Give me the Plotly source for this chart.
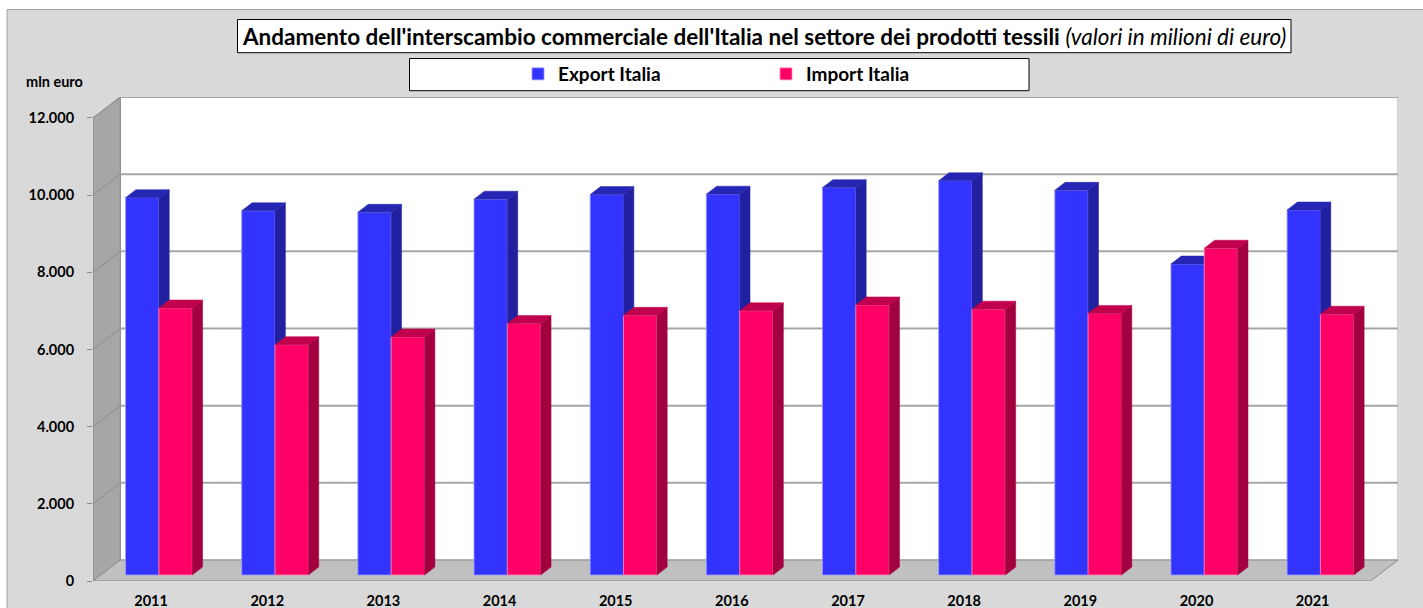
import plotly.graph_objects as go

# ---------------- data ----------------
years = ['2011', '2012', '2013', '2014', '2015', '2016', '2017', '2018', '2019', '2020', '2021']
export_italia = [9780, 9440, 9400, 9740, 9860, 9870, 10040, 10220, 9970, 8060, 9460]
import_italia = [6920, 5970, 6170, 6520, 6730, 6850, 7000, 6890, 6780, 8470, 6760]
y_ticks = [0, 2000, 4000, 6000, 8000, 10000, 12000]
series_names = ['Export Italia', 'Import Italia']

# ---------------- style / geometry ----------------
FONT = 'Lato'
W_PX, H_PX = 1423, 608
ML, MR, MT, MB = 93, 25, 97, 27
DX = 0.235      # full depth offset in category units
DY = 544        # full depth offset in value units
D0 = 0.286      # depth fraction of bar front face
DB = 0.38       # bar depth fraction
BW = 0.287      # bar width (category units)
Y_MAX = y_ticks[-1]

front_cols = ['#3333ff', '#ff0066']
side_cols = ['#2020a0', '#a3003f']
top_cols = ['#2626b4', '#c0004c']
edge_cols = ['#9a9aff', '#ff8ab8']

n = len(years)
xpos = list(range(n))
xmin, xmax = -0.5, n - 0.5

fig = go.Figure()

series = [export_italia, import_italia]
for s, vals in enumerate(series):
    xa = 'x' if s == 0 else 'x2'
    ya = 'y' if s == 0 else 'y2'
    sign = -1 if s == 0 else 1
    centers = [i + D0 * DX + sign * BW / 2 for i in xpos]
    base = D0 * DY
    # front faces as bars
    fig.add_trace(go.Bar(
        x=centers, y=vals, base=base, width=BW,
        marker=dict(color=front_cols[s], line=dict(color=edge_cols[s], width=0.8)),
        name=series_names[s], legend='legend' if s == 0 else 'legend2',
        xaxis=xa, yaxis=ya, hoverinfo='skip'))
    # side and top faces computed from the values
    sx, sy, tx, ty = [], [], [], []
    for c, v in zip(centers, vals):
        xl, xr = c - BW / 2, c + BW / 2
        top = base + v
        ddx, ddy = DB * DX, DB * DY
        sx += [xr, xr + ddx, xr + ddx, xr, xr, None]
        sy += [base, base + ddy, top + ddy, top, base, None]
        tx += [xl, xr, xr + ddx, xl + ddx, xl, None]
        ty += [top, top, top + ddy, top + ddy, top, None]
    fig.add_trace(go.Scatter(x=sx, y=sy, mode='lines', fill='toself',
                             fillcolor=side_cols[s], line=dict(color=side_cols[s], width=0.5),
                             showlegend=False, hoverinfo='skip', xaxis=xa, yaxis=ya))
    fig.add_trace(go.Scatter(x=tx, y=ty, mode='lines', fill='toself',
                             fillcolor=top_cols[s], line=dict(color=top_cols[s], width=0.5),
                             showlegend=False, hoverinfo='skip', xaxis=xa, yaxis=ya))


def px_x(p):
    return (p - ML) / (W_PX - ML - MR)


def px_y(p):
    return (H_PX - MB - p) / (H_PX - MT - MB)


shapes = []
# outer grey chart area
shapes.append(dict(type='rect', xref='paper', yref='paper', layer='below',
                   x0=px_x(7), x1=px_x(1440), y0=px_y(630), y1=px_y(9.5),
                   fillcolor='#d9d9d9', line=dict(color='#a6a6a6', width=1)))
# title box
shapes.append(dict(type='rect', xref='paper', yref='paper', layer='below',
                   x0=px_x(237.5), x1=px_x(1291), y0=px_y(52.7), y1=px_y(19.5),
                   fillcolor='white', line=dict(color='black', width=1)))
# legend box
shapes.append(dict(type='rect', xref='paper', yref='paper', layer='below',
                   x0=px_x(409.5), x1=px_x(1029), y0=px_y(90.7), y1=px_y(58.5),
                   fillcolor='white', line=dict(color='black', width=1)))
# back wall
shapes.append(dict(type='rect', xref='x', yref='y', layer='below',
                   x0=xmin + DX, x1=xmax + DX, y0=DY, y1=Y_MAX + DY,
                   fillcolor='white', line=dict(color='#a6a6a6', width=1)))
# side wall
shapes.append(dict(type='path', xref='x', yref='y', layer='below',
                   path=f'M{xmin},0 L{xmin + DX},{DY} L{xmin + DX},{Y_MAX + DY} L{xmin},{Y_MAX} Z',
                   fillcolor='#a6a6a6', line=dict(color='#8c8c8c', width=1)))
# floor
shapes.append(dict(type='path', xref='x', yref='y', layer='below',
                   path=f'M{xmin},0 L{xmax},0 L{xmax + DX},{DY} L{xmin + DX},{DY} Z',
                   fillcolor='#c0c0c0', line=dict(color='#8c8c8c', width=1)))
for t in y_ticks:
    if t > 0:
        shapes.append(dict(type='line', xref='x', yref='y', layer='below',
                           x0=xmin + DX, x1=xmax + DX, y0=t + DY, y1=t + DY,
                           line=dict(color='#a6a6a6', width=2)))
        shapes.append(dict(type='line', xref='x', yref='y', layer='below',
                           x0=xmin, x1=xmin + DX, y0=t, y1=t + DY,
                           line=dict(color='#8c8c8c', width=1)))
# front vertical axis line
shapes.append(dict(type='line', xref='x', yref='y', layer='below',
                   x0=xmin, x1=xmin, y0=0, y1=Y_MAX,
                   line=dict(color='#8c8c8c', width=1)))

annotations = [
    dict(xref='paper', yref='paper', x=px_x(764), y=px_y(36.5), showarrow=False,
         xanchor='center', yanchor='middle',
         text="<b>Andamento dell'interscambio commerciale dell'Italia nel settore dei prodotti tessili</b> "
              "<i>(valori in milioni di euro)</i>",
         font=dict(family=FONT, size=22.5, color='black')),
    dict(xref='paper', yref='paper', x=px_x(54), y=px_y(81), showarrow=False,
         xanchor='center', yanchor='middle', text='<b>mln euro</b>',
         font=dict(family=FONT, size=14.5, color='black')),
]

fig.update_layout(
    width=W_PX, height=H_PX,
    margin=dict(l=ML, r=MR, t=MT, b=MB, pad=0, autoexpand=False),
    paper_bgcolor='white', plot_bgcolor='rgba(0,0,0,0)',
    separators=',.',
    barmode='overlay',
    showlegend=True,
    shapes=shapes, annotations=annotations,
    font=dict(family=FONT, color='black'),
    xaxis=dict(range=[xmin, xmax + DX], tickvals=xpos, ticktext=years,
               showgrid=False, zeroline=False, showline=False, ticks='',
               tickfont=dict(family=FONT, size=14.5, color='black', weight='bold'),
               ticklabelstandoff=9, fixedrange=True, automargin=False),
    yaxis=dict(range=[0, Y_MAX + DY], tickvals=y_ticks, tickformat=',d',
               showgrid=False, zeroline=False, showline=False,
               ticks='outside', ticklen=5, tickcolor='#8c8c8c', tickwidth=1,
               tickfont=dict(family=FONT, size=14.5, color='black', weight='bold'),
               ticklabelstandoff=10, fixedrange=True, automargin=False),
    xaxis2=dict(overlaying='x', range=[xmin, xmax + DX], visible=False, fixedrange=True),
    yaxis2=dict(overlaying='y', range=[0, Y_MAX + DY], visible=False, fixedrange=True),
    legend=dict(xref='container', yref='container', x=518 / W_PX, y=1 - 74 / H_PX,
                xanchor='left', yanchor='middle', bgcolor='rgba(0,0,0,0)', borderwidth=0,
                font=dict(family=FONT, size=19, color='black', weight='bold')),
    legend2=dict(xref='container', yref='container', x=766 / W_PX, y=1 - 74 / H_PX,
                 xanchor='left', yanchor='middle', bgcolor='rgba(0,0,0,0)', borderwidth=0,
                 font=dict(family=FONT, size=19, color='black', weight='bold')),
)

fig.write_html('out.html', config={'displayModeBar': False},
               post_script="document.body.style.margin='0px';document.body.style.overflow='hidden';")
